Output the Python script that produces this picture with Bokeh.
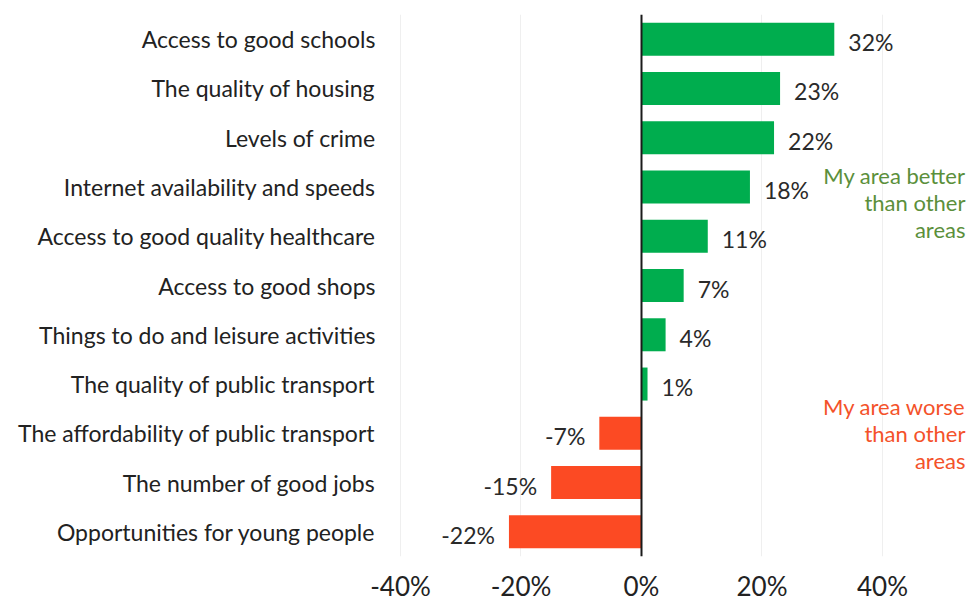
from bokeh.plotting import figure
from bokeh.models import ColumnDataSource, FixedTicker, PrintfTickFormatter, Span, FactorRange, Range1d
from bokeh.core.properties import value
from bokeh.embed import file_html
from bokeh.resources import INLINE

categories = [
    "Access to good schools",
    "The quality of housing",
    "Levels of crime",
    "Internet availability and speeds",
    "Access to good quality healthcare",
    "Access to good shops",
    "Things to do and leisure activities",
    "The quality of public transport",
    "The affordability of public transport",
    "The number of good jobs",
    "Opportunities for young people",
]
values = [32, 23, 22, 18, 11, 7, 4, 1, -7, -15, -22]
x_ticks = [-40, -20, 0, 20, 40]

FONT = "Lato"
GREEN = "#00ad4e"
RED = "#fc4a23"

p = figure(
    width=967, height=604,
    y_range=FactorRange(factors=list(reversed(categories)), range_padding=0),
    x_range=Range1d(-41.66, 54.11),
    output_backend="svg", toolbar_location=None,
    min_border_left=390, min_border_right=0, min_border_top=14, min_border_bottom=48,
)
p.outline_line_color = None
p.background_fill_color = "white"
p.border_fill_color = "white"

colors = [GREEN if v >= 0 else RED for v in values]
src = ColumnDataSource(dict(cat=categories, val=values, color=colors))
p.hbar(y="cat", right="val", left=0, height=0.67, fill_color="color", line_color=None, source=src)

pos = ColumnDataSource(dict(cat=[c for c, v in zip(categories, values) if v >= 0],
                            val=[v for v in values if v >= 0],
                            lab=[f"{v}%" for v in values if v >= 0]))
neg = ColumnDataSource(dict(cat=[c for c, v in zip(categories, values) if v < 0],
                            val=[v for v in values if v < 0],
                            lab=[f"{v}%" for v in values if v < 0]))
p.text(x="val", y="cat", text="lab", source=pos, x_offset=14, y_offset=3,
       text_align="left", text_baseline="middle", text_font=value(FONT),
       text_font_size="23px", text_color="#2a2a2a")
p.text(x="val", y="cat", text="lab", source=neg, x_offset=-14, y_offset=3,
       text_align="right", text_baseline="middle", text_font=value(FONT),
       text_font_size="23px", text_color="#2a2a2a")

p.text(x=[54.11], y=["Internet availability and speeds"], text=["My area better\nthan other\nareas"],
       x_offset=-2, y_offset=16, text_align="right", text_baseline="middle", text_font=value(FONT),
       text_font_size="22px", text_color="#5b8f3b", text_line_height=1.0)
p.text(x=[54.11], y=["The affordability of public transport"], text=["My area worse\nthan other\nareas"],
       x_offset=-2, y_offset=0, text_align="right", text_baseline="middle", text_font=value(FONT),
       text_font_size="22px", text_color="#f4522a", text_line_height=1.0)

p.add_layout(Span(location=0, dimension="height", line_color="#1a1a1a", line_width=2))

p.xaxis.ticker = FixedTicker(ticks=x_ticks)
p.xaxis.formatter = PrintfTickFormatter(format="%d%%")
p.xgrid.ticker = FixedTicker(ticks=x_ticks)
p.xgrid.grid_line_color = "#efefef"
p.ygrid.grid_line_color = None

for ax in (p.xaxis, p.yaxis):
    ax.axis_line_color = None
    ax.major_tick_line_color = None
    ax.minor_tick_line_color = None
    ax.major_tick_out = 0
    ax.major_tick_in = 0
    ax.minor_tick_out = 0
    ax.major_label_text_font = FONT
    ax.major_label_text_color = "#222222"

p.xaxis.major_label_text_font_size = "26px"
p.xaxis.major_label_standoff = 13
p.yaxis.major_label_text_font_size = "23px"
p.yaxis.major_label_standoff = 15

open("out.html", "w").write(file_html(p, INLINE))
